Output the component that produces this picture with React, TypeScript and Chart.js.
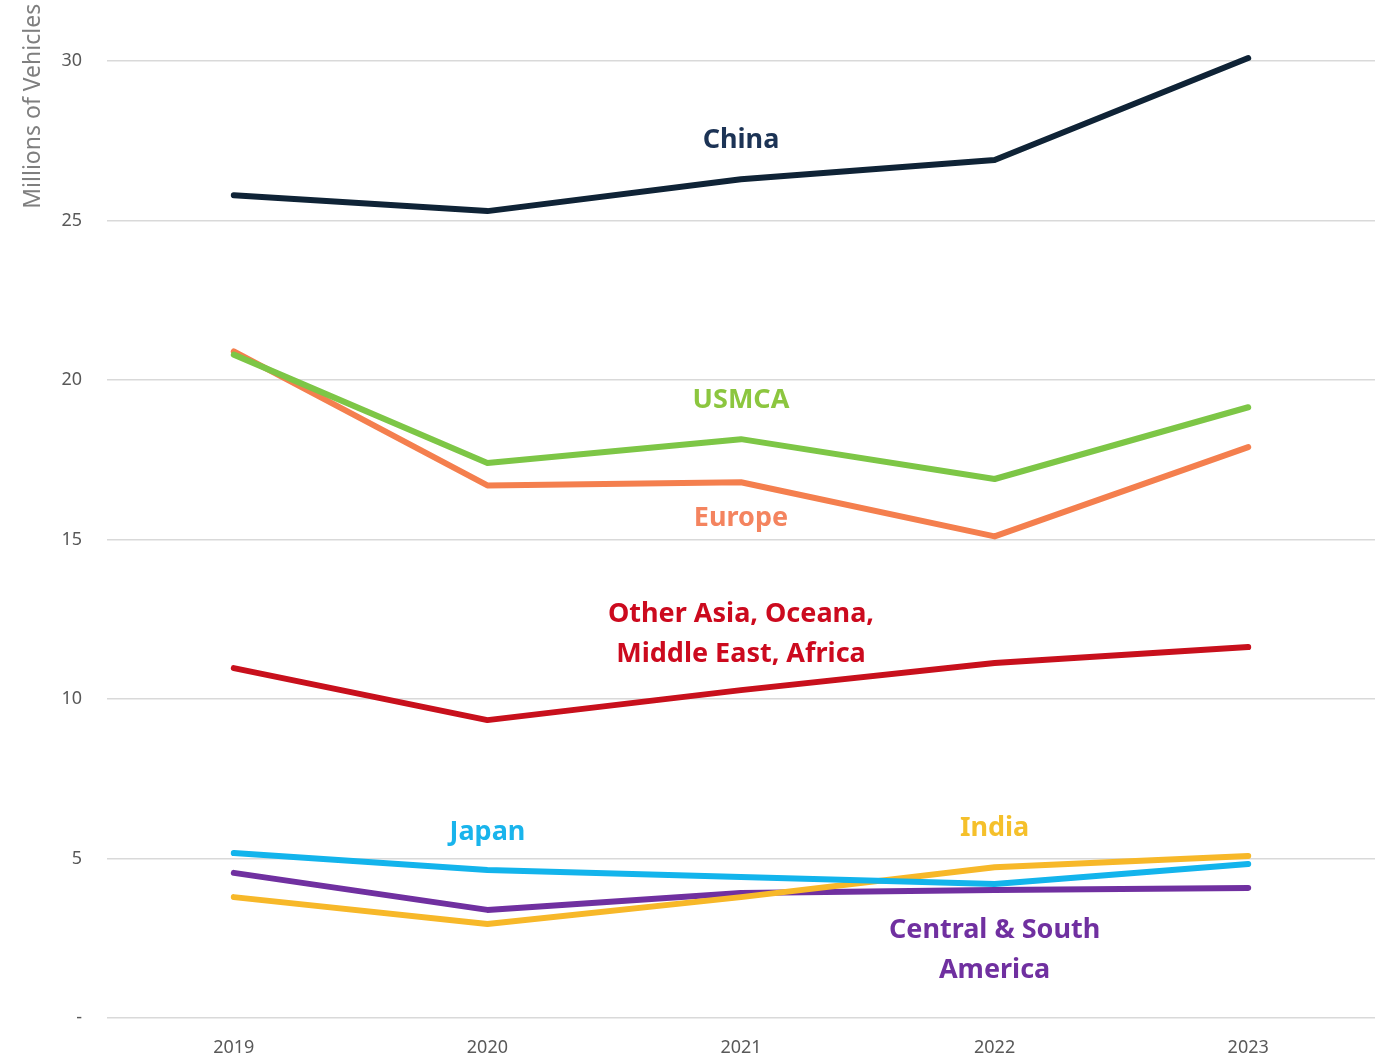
import React, { useEffect, useRef } from "react";
import { Chart, registerables } from "chart.js";

Chart.register(...registerables);

const years = ["2019", "2020", "2021", "2022", "2023"];
const china = [25.8, 25.3, 26.3, 26.9, 30.1];
const usmca = [20.8, 17.4, 18.15, 16.9, 19.15];
const europe = [20.9, 16.7, 16.8, 15.1, 17.9];
const otherAsia = [10.97, 9.34, 10.28, 11.13, 11.63];
const japan = [5.17, 4.64, 4.42, 4.2, 4.83];
const india = [3.79, 2.95, 3.79, 4.73, 5.08];
const centralSouthAmerica = [4.55, 3.39, 3.92, 4.01, 4.08];

const seriesNames = ["China", "USMCA", "Europe", "Other Asia, Oceana, Middle East, Africa", "Japan", "India", "Central & South America"];
const seriesColors = ["#0f2336", "#7dc646", "#f47f4e", "#c8101c", "#13b4ec", "#f7b829", "#7030a0"];
const labelColors = ["#1c3355", "#8cc63f", "#f4845f", "#cc0a1e", "#19b4ec", "#f5c02b", "#7030a0"];
const labelLines = [["China"], ["USMCA"], ["Europe"], ["Other Asia, Oceana,", "Middle East, Africa"], ["Japan"], ["India"], ["Central & South", "America"]];
const labelXIndex = [2, 2, 2, 2, 1, 3, 3];
const labelYValue = [27.52, 19.37, 15.67, 12.04, 5.83, 5.96, 2.13];

const yTickValues = [0, 5, 10, 15, 20, 25, 30];

const FONT = "'Noto Sans', 'Open Sans', sans-serif";
const SHIFT = 32;

const labelPlugin = {
  id: "seriesLabels",
  afterDatasetsDraw(chart: any) {
    const ctx = chart.ctx;
    const xs = chart.scales.x;
    const ys = chart.scales.y;
    ctx.save();
    ctx.font = `bold 27px ${FONT}`;
    ctx.textAlign = "center";
    ctx.textBaseline = "middle";
    labelLines.forEach((lines, i) => {
      const cx = xs.getPixelForValue(labelXIndex[i]);
      const cy = ys.getPixelForValue(labelYValue[i]);
      const lh = 40;
      const start = cy - ((lines.length - 1) * lh) / 2;
      ctx.fillStyle = labelColors[i];
      lines.forEach((t, j) => ctx.fillText(t, cx, start + j * lh));
    });
    ctx.restore();
  },
};

export default function App() {
  const ref = useRef<HTMLCanvasElement | null>(null);
  useEffect(() => {
    document.body.style.margin = "0";
    const all = [china, usmca, europe, otherAsia, japan, india, centralSouthAmerica];
    const chart = new Chart(ref.current as HTMLCanvasElement, {
      type: "line",
      data: {
        labels: years,
        datasets: all.map((d, i) => ({
          label: seriesNames[i],
          data: d,
          borderColor: seriesColors[i],
          backgroundColor: seriesColors[i],
          borderWidth: 6,
          pointRadius: 0,
          tension: 0,
          borderCapStyle: "round" as const,
          borderJoinStyle: "round" as const,
        })),
      },
      options: {
        animation: false,
        responsive: false,
        maintainAspectRatio: false,
        layout: { padding: { top: 0, right: 14, left: 2, bottom: 0 } },
        plugins: { legend: { display: false }, tooltip: { enabled: false } },
        scales: {
          x: {
            offset: true,
            grid: { display: false, drawTicks: false },
            border: { display: false },
            ticks: { color: "#595959", font: { family: FONT, size: 18 }, padding: 19 },
            afterFit: (axis: any) => { axis.height = 42; },
          },
          y: {
            min: 0,
            max: 31.8,
            afterBuildTicks: (axis: any) => {
              axis.ticks = yTickValues.map((v) => ({ value: v }));
            },
            grid: { color: "#d9d9d9", lineWidth: 1.5, drawTicks: false },
            border: { display: false },
            ticks: {
              color: "#595959",
              font: { family: FONT, size: 18 },
              padding: 25,
              callback: (v: any) => (v === 0 ? "-" : String(v)),
            },
            title: {
              display: true,
              text: "Millions of Vehicles",
              align: "end",
              color: "#7f7f7f",
              font: { family: FONT, size: 23 },
              padding: { top: 18, bottom: 0 },
            },
            afterFit: (axis: any) => { axis.width = 105; },
          },
        },
      },
      plugins: [labelPlugin],
    } as any);
    return () => chart.destroy();
  }, []);
  return (
    <div style={{ width: 1389, height: 1060, background: "#fff", overflow: "hidden", position: "relative" }}>
      <canvas ref={ref} width={1389} height={1060 + SHIFT} style={{ display: "block", position: "absolute", left: 0, top: -SHIFT }} />
    </div>
  );
}
